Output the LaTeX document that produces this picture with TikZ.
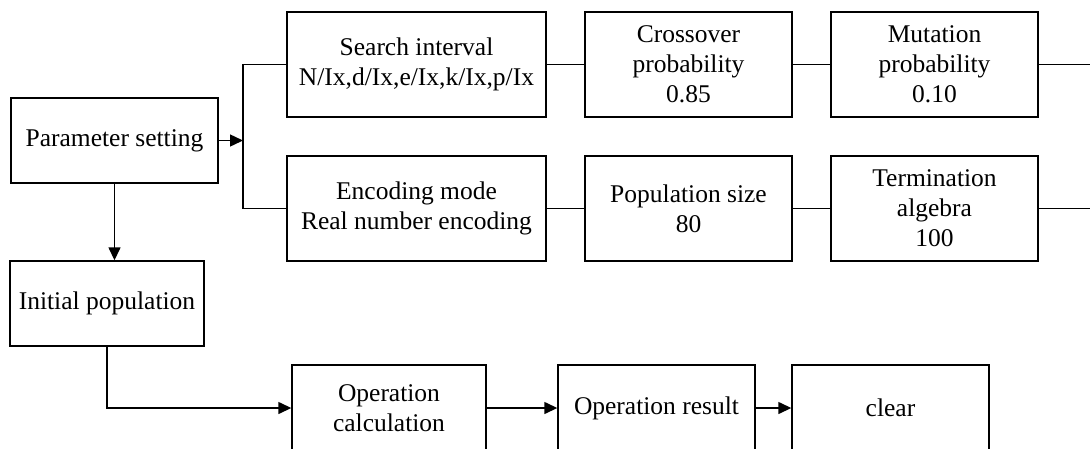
\documentclass[tikz,border=0pt]{standalone}
\usepackage{fontspec}
\setmainfont{Liberation Serif}
\usetikzlibrary{arrows.meta}
\begin{document}
\begin{tikzpicture}[x=1pt,y=-1pt,
  box/.style={draw, line width=1.4pt, align=center, inner sep=0pt,
    font=\fontsize{25.5}{30}\selectfont},
  link/.style={line width=1.4pt},
  flow/.style={line width=1.4pt, -{Triangle[length=13pt,width=12pt]}}]
  \useasboundingbox (0,0) rectangle (1090,448);

  % left column
  \node[box, minimum width=207pt, minimum height=85pt] (param) at (114.5,140.5) {Parameter setting};
  \node[box, minimum width=194pt, minimum height=85pt] (init) at (107,303.5) {Initial population};

  % parameter rows
  \node[box, minimum width=259pt, minimum height=105pt] (search) at (416.5,64.5) {Search interval\\N/Ix,d/Ix,e/Ix,k/Ix,p/Ix};
  \node[box, minimum width=207pt, minimum height=105pt] (cross) at (688.5,64.5) {Crossover\\probability\\0.85};
  \node[box, minimum width=207pt, minimum height=105pt] (mut) at (934.5,64.5) {Mutation\\probability\\0.10};
  \node[box, minimum width=259pt, minimum height=105pt] (enc) at (416.5,208.5) {Encoding mode\\Real number encoding};
  \node[box, minimum width=207pt, minimum height=105pt] (pop) at (688.5,208.5) {Population size\\80};
  \node[box, minimum width=207pt, minimum height=105pt] (term) at (934.5,208.5) {Termination\\algebra\\100};

  % operation row
  \node[box, minimum width=194pt, minimum height=86pt] (opcalc) at (389,408) {Operation\\calculation};
  \node[box, minimum width=197pt, minimum height=86pt] (opres) at (656.5,408) {Operation result};
  \node[box, minimum width=197pt, minimum height=86pt] (clear) at (890.5,408) {clear};

  % branching bus
  \coordinate (br) at (243,140.5);
  \coordinate (outtop) at (1090,64.5);
  \coordinate (outbot) at (1090,208.5);

  \draw[flow] (param.east) -- (br);
  \draw[link] (search.west) -- (search.west -| br) -- (enc.west -| br) -- (enc.west);
  \draw[link] (search) -- (cross);
  \draw[link] (cross) -- (mut);
  \draw[link] (mut.east) -- (outtop);
  \draw[link] (enc) -- (pop);
  \draw[link] (pop) -- (term);
  \draw[link] (term.east) -- (outbot);

  \draw[flow] (param.south) -- (param.south |- init.north);
  \draw[flow] (init.south) |- (opcalc.west);
  \draw[flow] (opcalc) -- (opres);
  \draw[flow] (opres) -- (clear);
\end{tikzpicture}
\end{document}
